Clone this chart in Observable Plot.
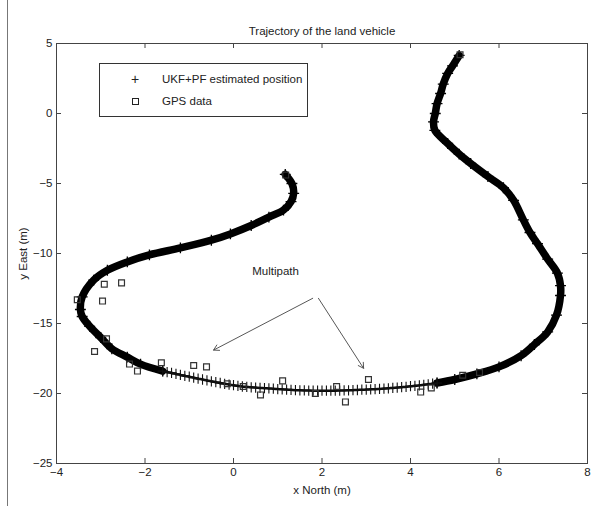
<!DOCTYPE html>
<html>
<head>
<meta charset="utf-8">
<script src="https://cdn.jsdelivr.net/npm/d3@7"></script>
<script src="https://cdn.jsdelivr.net/npm/@observablehq/plot@0.6"></script>
<style>
  html, body { margin: 0; padding: 0; background: #fff; }
  #wrap { position: relative; width: 610px; height: 512px; overflow: hidden; font-family: "Liberation Sans", Arial, sans-serif; }
  #border { position: absolute; left: 7px; top: 0; width: 1px; height: 506px; background: #777; }
  #legend { position: absolute; left: 99px; top: 63px; width: 207px; height: 52px; border: 1px solid #333; background: #fff; font-size: 11.5px; color: #222; }
  .lrow { position: absolute; left: 0; width: 100%; height: 16px; line-height: 16px; }
  .lsym { position: absolute; left: 28px; width: 14px; text-align: center; }
  .ltxt { position: absolute; left: 62px; }
  .sq { display: inline-block; width: 5px; height: 5px; border: 1px solid #222; vertical-align: middle; }
</style>
</head>
<body>
<div id="wrap">
  <div id="chart"></div>
  <div id="border"></div>
  <div id="legend">
    <div class="lrow" style="top:7px"><span class="lsym" style="font-size:14px">+</span><span class="ltxt">UKF+PF estimated position</span></div>
    <div class="lrow" style="top:29px"><span class="lsym"><span class="sq"></span></span><span class="ltxt">GPS data</span></div>
  </div>
</div>
<script>
const xTicks = [-4, -2, 0, 2, 4, 6, 8];
const yTicks = [5, 0, -5, -10, -15, -20, -25];

// UKF+PF estimated trajectory, split by apparent density
const pathRight = [
  [5.1, 4.15], [4.95, 3.4], [4.84, 2.86], [4.74, 2.1], [4.68, 1.43], [4.6, 0.7], [4.56, 0.0],
  [4.52, -0.6], [4.55, -1.2], [4.84, -2.14], [5.1, -2.9], [5.36, -3.57], [5.75, -4.5], [6.1, -5.3],
  [6.33, -6.2], [6.55, -7.6], [6.7, -8.5], [6.87, -9.3], [7.1, -10.4], [7.32, -11.4], [7.39, -12.3],
  [7.39, -13.0], [7.3, -14.4], [7.1, -15.6], [6.8, -16.5], [6.5, -17.3], [6.0, -18.1], [5.5, -18.6],
  [5.0, -19.0], [4.6, -19.25]
];
const pathBottom = [
  [4.6, -19.25], [4.5, -19.3], [4.4, -19.34], [4.3, -19.38], [4.2, -19.42], [4.1, -19.45], [4.0, -19.48],
  [3.9, -19.52], [3.8, -19.55], [3.7, -19.58], [3.6, -19.6], [3.5, -19.63], [3.4, -19.65], [3.3, -19.67],
  [3.2, -19.69], [3.1, -19.7], [3.0, -19.72], [2.9, -19.73], [2.8, -19.75], [2.7, -19.76], [2.6, -19.77],
  [2.5, -19.78], [2.4, -19.79], [2.3, -19.8], [2.2, -19.8], [2.1, -19.8], [2.0, -19.8], [1.9, -19.8],
  [1.8, -19.8], [1.7, -19.79], [1.6, -19.78], [1.5, -19.77], [1.4, -19.76], [1.3, -19.74], [1.2, -19.72],
  [1.1, -19.7], [1.0, -19.68], [0.9, -19.66], [0.8, -19.64], [0.7, -19.62], [0.6, -19.6], [0.5, -19.58],
  [0.4, -19.56], [0.3, -19.53], [0.2, -19.5], [0.1, -19.46], [0.0, -19.41], [-0.1, -19.36], [-0.2, -19.31],
  [-0.3, -19.25], [-0.4, -19.19], [-0.5, -19.13], [-0.6, -19.07], [-0.7, -19.0], [-0.8, -18.94],
  [-0.9, -18.87], [-1.0, -18.8], [-1.1, -18.74], [-1.2, -18.67], [-1.3, -18.6], [-1.4, -18.53],
  [-1.5, -18.47], [-1.6, -18.4]
];
const pathLeft = [
  [-1.6, -18.4], [-2.1, -17.9], [-2.4, -17.4], [-2.75, -16.8], [-3.0, -16.0], [-3.25, -15.2],
  [-3.42, -14.5], [-3.46, -14.0], [-3.42, -13.1], [-3.16, -11.9], [-2.85, -11.2], [-2.4, -10.6],
  [-1.9, -10.1], [-1.2, -9.6], [-0.5, -9.05], [-0.07, -8.6], [0.4, -8.0], [0.8, -7.4], [1.13, -6.9],
  [1.3, -6.3], [1.36, -5.7], [1.32, -5.0], [1.17, -4.35]
];

// GPS data (squares)
const gpsX = [5.12, 1.18, -2.92, -2.53, -3.53, -2.96, -2.87, -3.14, -2.35, -2.17, -1.63, -0.90, -0.61,
  -0.14, 0.22, 0.61, 1.11, 1.85, 2.33, 2.53, 3.05, 4.23, 4.47, 5.18, 5.56];
const gpsY = [4.2, -4.4, -12.2, -12.1, -13.3, -13.4, -16.1, -17.0, -17.9, -18.4, -17.8, -18.0, -18.1,
  -19.3, -19.5, -20.1, -19.1, -20.0, -19.5, -20.6, -19.0, -19.9, -19.6, -18.7, -18.5];

// annotation
const noteText = ["Multipath"];
const noteX = [0.95];
const noteY = [-11.3];
const arrowFrom = [[1.79, -13.2], [1.92, -13.2]];
const arrowTo = [[-0.45, -16.9], [2.94, -18.2]];

const toObj = a => a.map(([x, y]) => ({x, y}));
const gps = gpsX.map((x, i) => ({x, y: gpsY[i]}));
const arrows = arrowFrom.map((f, i) => ({x1: f[0], y1: f[1], x2: arrowTo[i][0], y2: arrowTo[i][1]}));
const notes = noteText.map((t, i) => ({text: t, x: noteX[i], y: noteY[i]}));
const thickPts = [...pathRight, ...pathLeft].map(([x, y]) => ({x, y}));

const W = 610, H = 512, mL = 56, mR = 23, mT = 43, mB = 49;
const pw = W - mL - mR, ph = H - mT - mB;
const ink = "#222";

const chart = Plot.plot({
  width: W, height: H,
  marginLeft: mL, marginRight: mR, marginTop: mT, marginBottom: mB,
  x: {domain: [-4, 8]},
  y: {domain: [-25, 5]},
  style: {fontFamily: "'Liberation Sans', Arial, sans-serif", fontSize: "11.5px", color: ink, background: "transparent", overflow: "visible"},
  marks: [
    Plot.frame({stroke: "#444", strokeWidth: 1}),
    Plot.tickX(xTicks, {x: d => d, insetTop: ph - 5, stroke: "#444"}),
    Plot.tickX(xTicks, {x: d => d, insetBottom: ph - 5, stroke: "#444"}),
    Plot.tickY(yTicks, {y: d => d, insetRight: pw - 5, stroke: "#444"}),
    Plot.tickY(yTicks, {y: d => d, insetLeft: pw - 5, stroke: "#444"}),
    Plot.axisX({ticks: xTicks, tickSize: 0, tickPadding: 4, label: "x North (m)", labelAnchor: "center", labelArrow: "none", labelOffset: 30}),
    Plot.axisY({ticks: yTicks, tickSize: 0, tickPadding: 4, label: "y East (m)", labelAnchor: "center", labelArrow: "none", labelOffset: 38}),
    Plot.text(["Trajectory of the land vehicle"], {frameAnchor: "top", lineAnchor: "bottom", dy: -9, fontSize: 11.5}),
    Plot.line(toObj(pathRight), {x: "x", y: "y", curve: "catmull-rom", stroke: "#000", strokeWidth: 7.5, strokeLinecap: "round"}),
    Plot.line(toObj(pathLeft), {x: "x", y: "y", curve: "catmull-rom", stroke: "#000", strokeWidth: 7.5, strokeLinecap: "round"}),
    Plot.line(toObj(pathBottom), {x: "x", y: "y", curve: "catmull-rom", stroke: "#000", strokeWidth: 2.5}),
    Plot.dot(thickPts, {x: "x", y: "y", symbol: "plus", r: 3.6, stroke: "#000", strokeWidth: 1.3}),
    Plot.dot(toObj(pathBottom), {x: "x", y: "y", symbol: "plus", r: 3.4, stroke: "#111", strokeWidth: 1.1}),
    Plot.dot(gps, {x: "x", y: "y", symbol: "square", r: 3.3, fill: "none", stroke: "#333", strokeWidth: 1.2}),
    Plot.arrow(arrows, {x1: "x1", y1: "y1", x2: "x2", y2: "y2", stroke: "#444", strokeWidth: 0.9, headLength: 10}),
    Plot.text(notes, {x: "x", y: "y", text: "text", fontSize: 11.5})
  ]
});
document.getElementById("chart").appendChild(chart);
</script>
</body>
</html>
